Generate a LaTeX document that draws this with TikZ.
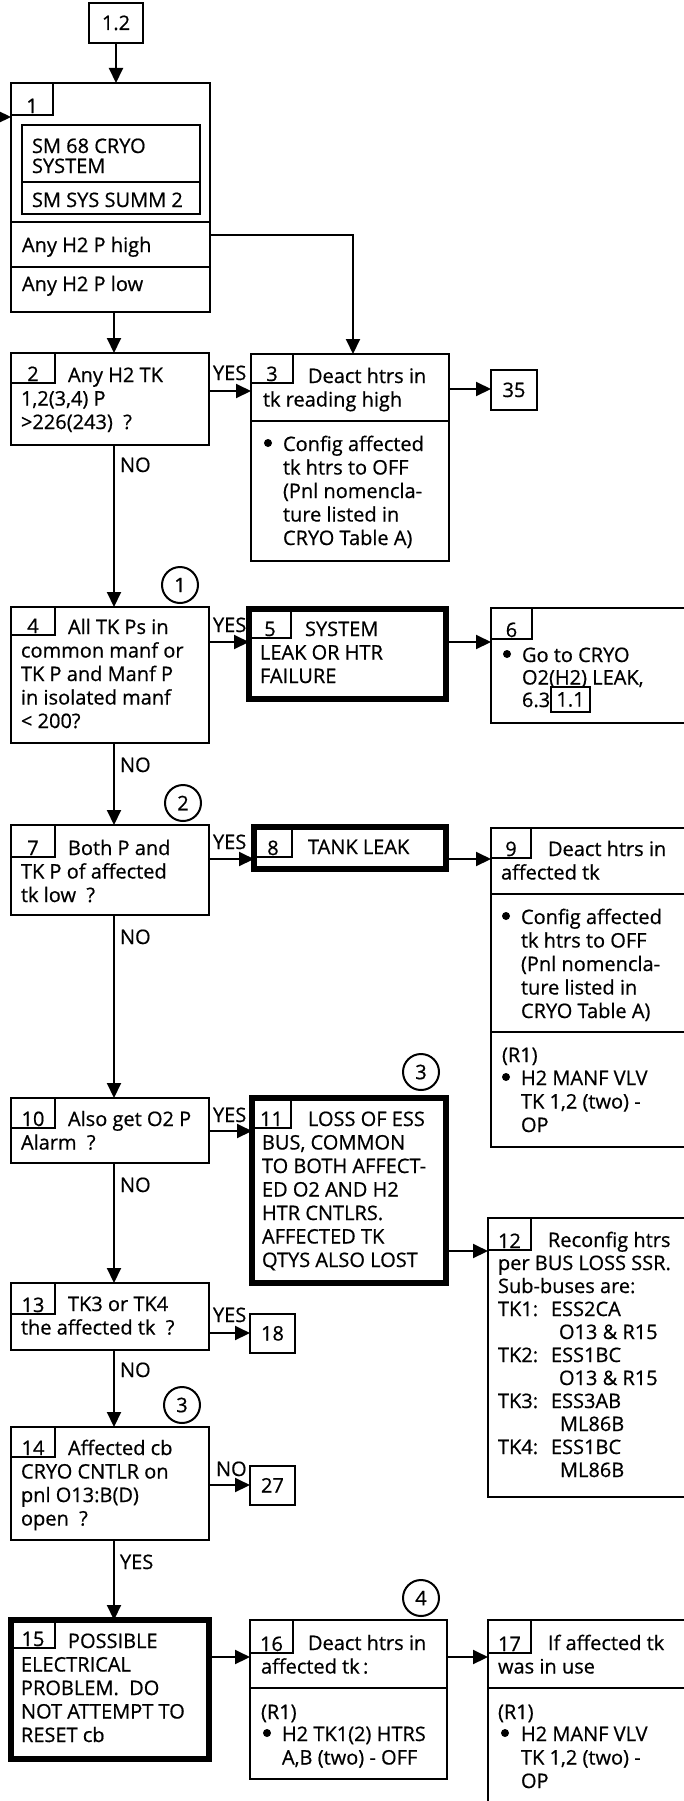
\documentclass[tikz,border=0pt]{standalone}
\usepackage{fontspec}
\setmainfont[FakeBold=0.6]{Open Sans}
\usetikzlibrary{arrows.meta,calc}
\newcommand\ml[1]{\parbox[t]{300pt}{\raggedright #1}}
\begin{document}
\begin{tikzpicture}[x=1pt,y=-1pt,
  every node/.style={inner sep=0pt, outer sep=0pt},
  txt/.style={anchor=base west, font=\fontsize{20}{23.5}\selectfont},
  num/.style={anchor=base, font=\fontsize{20}{23.5}\selectfont},
  lbl/.style={anchor=base west, font=\fontsize{20}{23.5}\selectfont},
  sz/.style 2 args={minimum width=#1, minimum height=#2},
  bx/.style={draw, line width=2pt, anchor=north west},
  hbx/.style={draw, line width=5.5pt, anchor=north west},
  tb/.style={draw, line width=1.8pt, anchor=north west},
  dot/.style={circle, fill, minimum size=8pt},
  circ/.style={draw, circle, line width=2pt, minimum size=36pt, font=\fontsize{20}{23.5}\selectfont},
  arr/.style={line width=2pt, -{Triangle[length=15pt,width=14pt]}}
]
\useasboundingbox (0,0) rectangle (684,1801);
\clip (0,0) rectangle (684,1801);
\fill[white] (0,0) rectangle (684,1801);
\coordinate (tx) at (114,0);

% entry
\node[bx,sz={54pt}{40pt}] (entry) at (89,3) {};
\node[num] (nentry) at ($(entry.center)+(0,7)$) {1.2};

% box 1
\node[bx,sz={199pt}{229pt}] (b1) at (11,83) {};
\node[tb,sz={42pt}{32pt}] (t1) at (11,83) {};
\node[num] (n1) at ($(t1.south)+(0,-2)$) {1};
\node[bx,sz={178pt}{57pt}] (i1a) at (22,125) {};
\node[bx,sz={178pt}{32pt}] (i1b) at (22,182) {};
\node[txt] (x1a) at (32,153) {\fontsize{20}{20}\selectfont\ml{SM 68 CRYO\\SYSTEM}};
\node[txt] (x1b) at (32,207) {SM SYS SUMM 2};
\node[bx,sz={199pt}{45pt}] (s1a) at (11,222) {};
\node[bx,sz={199pt}{45pt}] (s1b) at (11,267) {};
\node[txt] (x1c) at (22,252) {Any H2 P high};
\node[txt] (x1d) at (22,291) {Any H2 P low};
\coordinate (lin) at (-10,117);
\draw[arr] (lin) -- (lin -| b1.west);
\draw[arr] (entry.south) -- (entry.south |- b1.north);

% box 2
\node[bx,sz={198pt}{92pt}] (b2) at (11,353) {};
\node[tb,sz={44pt}{30pt}] (t2) at (11,353) {};
\node[num] (n2) at ($(t2.south)+(0,-2)$) {2};
\node[txt] (x2) at (21,382) {\ml{\hspace*{47pt}Any H2 TK\\1,2(3,4) P\\>226(243)~~?}};
\draw[arr] (b1.south -| tx) -- (b2.north -| tx);

% box 3
\node[bx,sz={198pt}{207pt}] (b3) at (251,354) {};
\node[bx,sz={198pt}{140pt}] (s3) at (251,421) {};
\node[tb,sz={42pt}{29pt}] (t3) at (251,354) {};
\node[num] (n3) at ($(t3.south)+(0,-2)$) {3};
\node[txt] (x3a) at (263,383) {\ml{\hspace*{45pt}Deact htrs in\\tk reading high}};
\node[dot] (bu3) at (268,443) {};
\node[txt] (x3b) at (283,451) {\ml{Config affected\\tk htrs to OFF\\(Pnl nomencla-\\ture listed in\\CRYO Table A)}};
\draw[arr] ($(s1a.north east)+(0,13)$) -| ($(b3.north west)+(102,0)$);
\draw[arr] ($(b2.north east)+(0,38)$) -- ($(b3.north west)+(0,37)$);
\node[lbl] (y23) at (213,380) {YES};

% 35
\node[bx,sz={46pt}{40pt}] (b35) at (491,370) {};
\node[num] (n35) at ($(b35.center)+(0,7)$) {35};
\draw[arr] ($(b3.north east)+(0,35)$) -- ($(b35.north west)+(0,19)$);

% box 4
\node[bx,sz={198pt}{136pt}] (b4) at (11,607) {};
\node[tb,sz={44pt}{28pt}] (t4) at (11,607) {};
\node[num] (n4) at ($(t4.south)+(0,-2)$) {4};
\node[txt] (x4) at (21,634) {\ml{\hspace*{47pt}All TK Ps in\\common manf or\\TK P and Manf P\\in isolated manf\\< 200?}};
\draw[arr] (b2.south -| tx) -- (b4.north -| tx);
\node[lbl] (no24) at (120,472) {NO};
\node[circ] (c1) at (180,585) {1};

% box 5
\node[hbx,sz={197pt}{90pt}] (b5) at (249,609) {};
\node[tb,sz={42pt}{29pt}] (t5) at (249,609) {};
\node[num] (n5) at ($(t5.south)+(0,-2)$) {5};
\node[txt] (x5) at (260,636) {\ml{\hspace*{45pt}SYSTEM\\LEAK OR HTR\\FAILURE}};
\draw[arr] ($(b4.north east)+(0,35)$) -- ($(b5.north west)+(0,33)$);
\node[lbl] (y45) at (213,632) {YES};

% box 6
\node[bx,sz={230pt}{115pt}] (b6) at (491,608) {};
\node[tb,sz={41pt}{31pt}] (t6) at (491,608) {};
\node[num] (n6) at ($(t6.south)+(0,-2)$) {6};
\node[dot] (bu6) at (507,654) {};
\node[txt] (x6) at (522,662) {\fontsize{20}{22.5}\selectfont\ml{Go to CRYO\\O2(H2) LEAK,\\6.3}};
\node[draw,line width=1.6pt,sz={39pt}{25pt},font=\fontsize{20}{23.5}\selectfont] (r6) at (570.5,699.5) {1.1};
\draw[arr] ($(b5.north east)+(0,33)$) -- ($(b6.north west)+(0,34)$);

% box 7
\node[bx,sz={198pt}{90pt}] (b7) at (11,825) {};
\node[tb,sz={44pt}{32pt}] (t7) at (11,825) {};
\node[num] (n7) at ($(t7.south)+(0,-2)$) {7};
\node[txt] (x7) at (21,855) {\ml{\hspace*{47pt}Both P and\\TK P of affected\\tk low~~?}};
\draw[arr] (b4.south -| tx) -- (b7.north -| tx);
\node[lbl] (no47) at (120,772) {NO};
\node[circ] (c2) at (183,803) {2};

% box 8
\node[hbx,sz={192pt}{42pt}] (b8) at (254,827) {};
\node[tb,sz={38pt}{30pt}] (t8) at (254,827) {};
\node[num] (n8) at ($(t8.south)+(0,-2)$) {8};
\node[txt] (x8) at (308,854) {TANK LEAK};
\draw[arr] ($(b7.north east)+(0,34)$) -- ($(b8.north west)+(0,32)$);
\node[lbl] (y78) at (213,849) {YES};

% box 9
\node[bx,sz={230pt}{319pt}] (b9) at (491,828) {};
\node[bx,sz={230pt}{138pt}] (s9a) at (491,894) {};
\node[bx,sz={230pt}{115pt}] (s9b) at (491,1032) {};
\node[tb,sz={40pt}{30pt}] (t9) at (491,828) {};
\node[num] (n9) at ($(t9.south)+(0,-2)$) {9};
\node[txt] (x9a) at (501,856) {\ml{\hspace*{47pt}Deact htrs in\\affected tk}};
\node[dot] (bu9a) at (506,916) {};
\node[txt] (x9b) at (521,924) {\ml{Config affected\\tk htrs to OFF\\(Pnl nomencla-\\ture listed in\\CRYO Table A)}};
\node[txt] (x9c) at (502,1062) {(R1)};
\node[dot] (bu9c) at (506,1077) {};
\node[txt] (x9d) at (521,1085) {\ml{H2 MANF VLV\\TK 1,2 (two) -\\OP}};
\draw[arr] ($(b8.north east)+(0,32)$) -- ($(b9.north west)+(0,31)$);

% box 10
\node[bx,sz={198pt}{65pt}] (b10) at (11,1098) {};
\node[tb,sz={44pt}{30pt}] (t10) at (11,1098) {};
\node[num] (n10) at ($(t10.south)+(0,-2)$) {10};
\node[txt] (x10) at (21,1126) {\ml{\hspace*{47pt}Also get O2 P\\Alarm~~?}};
\draw[arr] (b7.south -| tx) -- (b10.north -| tx);
\node[lbl] (no710) at (120,944) {NO};

% box 11
\node[hbx,sz={194pt}{185pt}] (b11) at (252,1098) {};
\node[tb,sz={39pt}{30pt}] (t11) at (252,1098) {};
\node[num] (n11) at ($(t11.south)+(0,-2)$) {11};
\node[txt] (x11) at (262,1126) {\ml{\hspace*{46pt}LOSS OF ESS\\BUS, COMMON\\TO BOTH AFFECT-\\ED O2 AND H2\\HTR CNTLRS.\\AFFECTED TK\\QTYS ALSO LOST}};
\node[circ] (c3a) at (421,1072) {3};
\draw[arr] ($(b10.north east)+(0,33)$) -- ($(b11.north west)+(0,33)$);
\node[lbl] (y1011) at (213,1122) {YES};

% box 12
\node[bx,sz={230pt}{279pt}] (b12) at (488,1218) {};
\node[tb,sz={43pt}{32pt}] (t12) at (488,1218) {};
\node[num] (n12) at ($(t12.south)+(0,-2)$) {12};
\node[txt] (x12) at (498,1247) {\fontsize{20}{23}\selectfont\ml{\hspace*{50pt}Reconfig htrs\\per BUS LOSS SSR.\\Sub-buses are:\\\makebox[53pt][l]{TK1:}ESS2CA\\\hspace*{61pt}O13 \& R15\\\makebox[53pt][l]{TK2:}ESS1BC\\\hspace*{61pt}O13 \& R15\\\makebox[53pt][l]{TK3:}ESS3AB\\\hspace*{62pt}ML86B\\\makebox[53pt][l]{TK4:}ESS1BC\\\hspace*{62pt}ML86B}};
\draw[arr] ($(b11.north east)+(0,153)$) -- ($(b12.north west)+(0,33)$);

% box 13
\node[bx,sz={198pt}{67pt}] (b13) at (11,1283) {};
\node[tb,sz={44pt}{31pt}] (t13) at (11,1283) {};
\node[num] (n13) at ($(t13.south)+(0,-2)$) {13};
\node[txt] (x13) at (21,1311) {\ml{\hspace*{47pt}TK3 or TK4\\the affected tk~~?}};
\draw[arr] (b10.south -| tx) -- (b13.north -| tx);
\node[lbl] (no1013) at (120,1192) {NO};
\node[bx,sz={45pt}{39pt}] (b18) at (250,1314) {};
\node[num] (n18) at ($(b18.center)+(0,7)$) {18};
\draw[arr] ($(b13.north east)+(0,50)$) -- ($(b18.north west)+(0,19)$);
\node[lbl] (y1318) at (213,1322) {YES};

% box 14
\node[bx,sz={198pt}{113pt}] (b14) at (11,1427) {};
\node[tb,sz={44pt}{30pt}] (t14) at (11,1427) {};
\node[num] (n14) at ($(t14.south)+(0,-2)$) {14};
\node[txt] (x14) at (21,1455) {\ml{\hspace*{47pt}Affected cb\\CRYO CNTLR on\\pnl O13:B(D)\\open~~?}};
\draw[arr] (b13.south -| tx) -- (b14.north -| tx);
\node[lbl] (no1314) at (120,1377) {NO};
\node[circ] (c3b) at (182,1405) {3};
\node[bx,sz={45pt}{39pt}] (b27) at (250,1466) {};
\node[num] (n27) at ($(b27.center)+(0,7)$) {27};
\draw[arr] ($(b14.north east)+(0,58)$) -- ($(b27.north west)+(0,19)$);
\node[lbl] (no1427) at (216,1476) {NO};

% box 15
\node[hbx,sz={198pt}{139pt}] (b15) at (11,1620) {};
\node[tb,sz={44pt}{28pt}] (t15) at (11,1620) {};
\node[num] (n15) at ($(t15.south)+(0,-2)$) {15};
\node[txt] (x15) at (21,1648) {\ml{\hspace*{47pt}POSSIBLE\\ELECTRICAL\\PROBLEM.~~DO\\NOT ATTEMPT TO\\RESET cb}};
\draw[arr] (b14.south -| tx) -- (b15.north -| tx);
\node[lbl] (y1415) at (120,1569) {YES};

% box 16
\node[bx,sz={197pt}{159pt}] (b16) at (250,1620) {};
\node[bx,sz={197pt}{91pt}] (s16) at (250,1688) {};
\node[tb,sz={43pt}{33pt}] (t16) at (250,1620) {};
\node[num] (n16) at ($(t16.south)+(0,-2)$) {16};
\node[txt] (x16a) at (261,1650) {\ml{\hspace*{47pt}Deact htrs in\\affected tk\,:}};
\node[txt] (x16b) at (261,1719) {(R1)};
\node[dot] (bu16) at (267,1733) {};
\node[txt] (x16c) at (282,1741) {\ml{H2 TK1(2) HTRS\\A,B (two) - OFF}};
\node[circ] (c4) at (421,1598) {4};
\draw[arr] ($(b15.north east)+(0,37)$) -- ($(b16.north west)+(0,37)$);

% box 17
\node[bx,sz={230pt}{220pt}] (b17) at (488,1620) {};
\node[bx,sz={230pt}{152pt}] (s17) at (488,1688) {};
\node[tb,sz={43pt}{33pt}] (t17) at (488,1620) {};
\node[num] (n17) at ($(t17.south)+(0,-2)$) {17};
\node[txt] (x17a) at (498,1650) {\ml{\hspace*{50pt}If affected tk\\was in use}};
\node[txt] (x17b) at (498,1719) {(R1)};
\node[dot] (bu17) at (505,1733) {};
\node[txt] (x17c) at (521,1741) {\ml{H2 MANF VLV\\TK 1,2 (two) -\\OP}};
\draw[arr] ($(b16.north east)+(0,37)$) -- ($(b17.north west)+(0,37)$);
\end{tikzpicture}
\end{document}
